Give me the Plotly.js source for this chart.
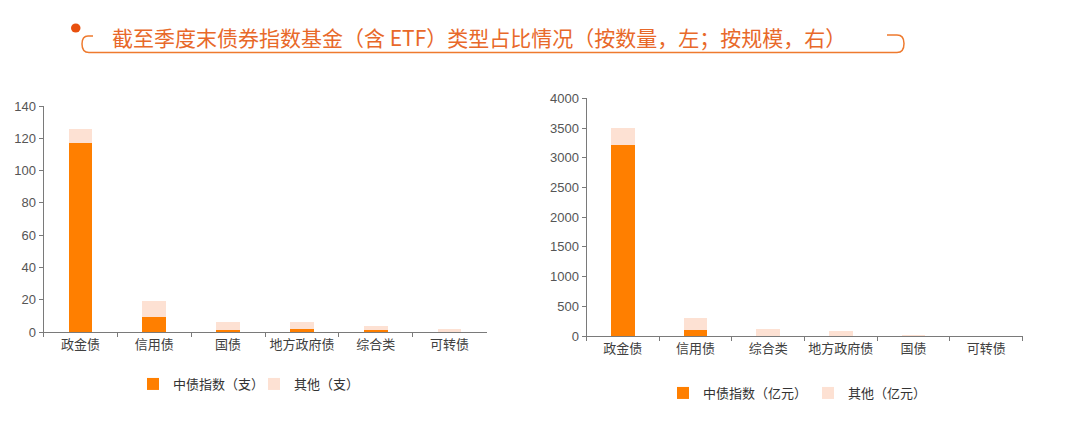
<!DOCTYPE html>
<html>
<head>
<meta charset="utf-8">
<script src="https://cdn.plot.ly/plotly-3.0.1.min.js"></script>
<style>html,body{margin:0;padding:0;background:#fff;}#chart{width:1080px;height:426px;}</style>
</head>
<body>
<div id="chart"></div>
<script>
// ---- data ----
const titleText = '截至季度末债券指数基金（含 ETF）类型占比情况（按数量，左；按规模，右）';
const leftCategories = ['政金债', '信用债', '国债', '地方政府债', '综合类', '可转债'];
const leftIndexCount = [117, 9, 1, 2, 1, 0];
const leftOtherCount = [9, 10, 5, 4, 3, 2];
const leftNames = ['中债指数（支）', '其他（支）'];

const rightCategories = ['政金债', '信用债', '综合类', '地方政府债', '国债', '可转债'];
const rightIndexScale = [3210, 95, 5, 5, 2, 0];
const rightOtherScale = [290, 200, 118, 75, 13, 2];
const rightNames = ['中债指数（亿元）', '其他（亿元）'];

const leftTicks = [0, 20, 40, 60, 80, 100, 120, 140];
const rightTicks = [0, 500, 1000, 1500, 2000, 2500, 3000, 3500, 4000];

// ---- style ----
const W = 1080, H = 426;
const px = x => x / W;
const py = y => 1 - y / H;
const ORANGE = '#ff7f00';
const PEACH = '#fde1d3';
const ACCENT = '#ee7a2e';
const FONT = 'Liberation Sans, Arial, Noto Sans CJK SC, sans-serif';
const CJK = 'Noto Sans CJK SC, Microsoft YaHei, sans-serif';

const traces = [
  {type: 'bar', x: leftCategories, y: leftIndexCount, name: leftNames[0], marker: {color: ORANGE}, width: 0.32, xaxis: 'x', yaxis: 'y', legend: 'legend', hoverinfo: 'y'},
  {type: 'bar', x: leftCategories, y: leftOtherCount, name: leftNames[1], marker: {color: PEACH}, width: 0.32, xaxis: 'x', yaxis: 'y', legend: 'legend', hoverinfo: 'y'},
  {type: 'bar', x: rightCategories, y: rightIndexScale, name: rightNames[0], marker: {color: ORANGE}, width: 0.33, xaxis: 'x2', yaxis: 'y2', legend: 'legend2', hoverinfo: 'y'},
  {type: 'bar', x: rightCategories, y: rightOtherScale, name: rightNames[1], marker: {color: PEACH}, width: 0.33, xaxis: 'x2', yaxis: 'y2', legend: 'legend2', hoverinfo: 'y'}
];

const axisCommon = {showgrid: false, zeroline: false, showline: true, linecolor: '#7a7a7a', linewidth: 1, ticks: 'outside', ticklen: 4, tickcolor: '#7a7a7a', tickfont: {family: FONT, size: 13, color: '#555'}, fixedrange: true};
const catFont = {family: CJK, size: 13, color: '#404040'};

const layout = {
  width: W, height: H,
  margin: {l: 0, r: 0, t: 0, b: 0},
  paper_bgcolor: '#fff', plot_bgcolor: '#fff',
  barmode: 'stack',
  showlegend: true,
  xaxis: Object.assign({}, axisCommon, {domain: [px(43.5), px(486.5)], type: 'category', range: [-0.5, 5.5], tickson: 'boundaries', tickangle: 0, anchor: 'y', tickfont: catFont}),
  yaxis: Object.assign({}, axisCommon, {domain: [py(332), py(106)], range: [0, 140], tickvals: leftTicks, anchor: 'x'}),
  xaxis2: Object.assign({}, axisCommon, {domain: [px(586.5), px(1022.5)], type: 'category', range: [-0.5, 5.5], tickson: 'boundaries', tickangle: 0, anchor: 'y2', tickfont: catFont}),
  yaxis2: Object.assign({}, axisCommon, {domain: [py(336), py(98.3)], range: [0, 4000], tickvals: rightTicks, anchor: 'x2'}),
  legend: {orientation: 'h', traceorder: 'normal', entrywidth: 76, entrywidthmode: 'pixels', x: px(254), y: py(384), xanchor: 'center', yanchor: 'middle', font: {family: CJK, size: 13, color: '#333'}, bgcolor: 'rgba(0,0,0,0)', itemclick: false, itemdoubleclick: false},
  legend2: {orientation: 'h', traceorder: 'normal', entrywidth: 100, entrywidthmode: 'pixels', x: px(808), y: py(393), xanchor: 'center', yanchor: 'middle', font: {family: CJK, size: 13, color: '#333'}, bgcolor: 'rgba(0,0,0,0)', itemclick: false, itemdoubleclick: false},
  annotations: [
    {text: titleText, xref: 'paper', yref: 'paper', x: px(479), y: py(37), xanchor: 'center', yanchor: 'middle', showarrow: false, font: {family: CJK, size: 21, color: '#e8692a'}}
  ],
  shapes: [
    {type: 'circle', xref: 'paper', yref: 'paper', x0: px(71), x1: px(80.5), y0: py(23.5), y1: py(32.5), fillcolor: '#e8500e', line: {width: 0}},
    {type: 'path', xref: 'paper', yref: 'paper', line: {color: ACCENT, width: 1.5},
      path: `M ${px(93)},${py(36)} L ${px(88)},${py(36)} Q ${px(82)},${py(36)} ${px(82)},${py(44)} Q ${px(82)},${py(52.5)} ${px(89)},${py(52.5)} L ${px(897)},${py(52.5)} Q ${px(904)},${py(52.5)} ${px(904)},${py(43.5)} Q ${px(904)},${py(35)} ${px(897)},${py(35)} L ${px(887)},${py(35)}`}
  ]
};

Plotly.newPlot('chart', traces, layout, {displayModeBar: false, staticPlot: true});
</script>
</body>
</html>
